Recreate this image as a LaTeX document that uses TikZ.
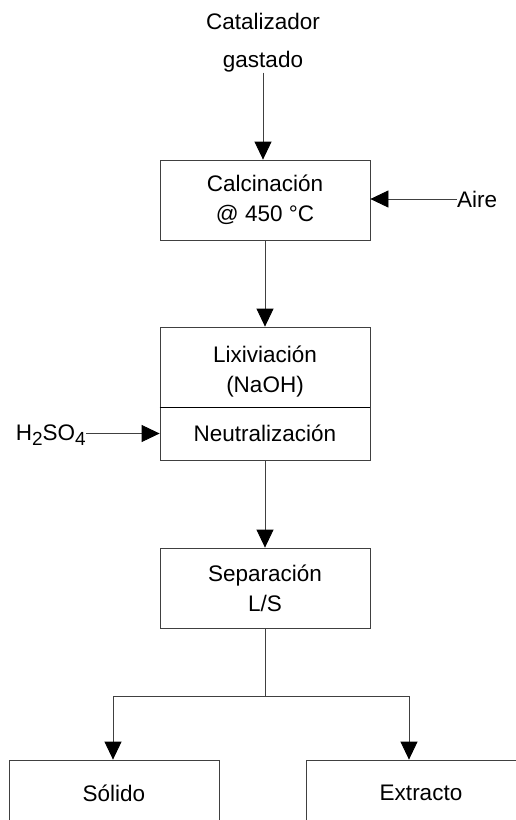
\documentclass[tikz,border=0pt]{standalone}
\usepackage{fontspec}
\setmainfont{Liberation Sans}
\usetikzlibrary{arrows.meta}
\newcommand{\lowsub}[1]{\raisebox{-5pt}{\fontsize{19}{19}\selectfont #1}}

\tikzset{
  unit/.style={draw=black!75, line width=0.8pt, minimum width=210, minimum height=80, inner sep=0pt, align=center},
  flow/.style={draw=black!75, line width=0.8pt, -{Triangle[length=18pt,width=17pt,black]}},
  link/.style={draw=black!75, line width=0.8pt},
}

\begin{document}
\begin{tikzpicture}[x=1pt,y=1pt,yscale=-1,xscale=1,font=\fontsize{22.5}{30}\selectfont]
\useasboundingbox (0,0) rectangle (515,820);

% Process boxes
\node[unit] (cal) at (265,200) {Calcinación\\@ 450 °C};
\node[unit] (lix) at (265,367) {};
\node[unit, minimum height=53] (neu) at (265,433.5) {Neutralización};
\node[unit] (sep) at (265,588) {Separación\\L/S};
\node[unit, minimum height=66] (sol) at (114,793) {Sólido};
\node[unit, minimum width=230, minimum height=66] (ext) at (421,793) {Extracto};
\draw [line width=1.6pt] (lix.south west) -- (lix.south east) ;

% Text Node
\node[align=center, inner sep=0pt] (lixtext) at (265,372) {Lixiviación\\(NaOH)};
% Text Node
\node[align=center, inner sep=0pt] (feed) at (263,43) {Catalizador\\[8pt]gastado};
% Text Node
\node[anchor=west, inner sep=0pt] (aire) at (457,199) {Aire};
% Text Node
\node[anchor=east, inner sep=0pt] (acid) at (86,435) {H\lowsub{2}SO\lowsub{4}};

% Streams
\draw [flow] (feed.south) -- (feed.south |- cal.north) ;
\draw [flow] (aire.west) -- (aire.west -| cal.east) ;
\draw [flow] (cal.south) -- (lix.north) ;
\draw [flow] (acid.east |- neu.west) -- (neu.west) ;
\draw [flow] (neu.south) -- (sep.north) ;

% Split to products
\coordinate (split) at (265,696);
\coordinate (splitL) at (113,696);
\coordinate (splitR) at (409,696);
\draw [link] (sep.south) -- (split) ;
\draw [link] (splitL) -- (splitR) ;
\draw [flow] (splitL) -- (splitL |- sol.north) ;
\draw [flow] (splitR) -- (splitR |- ext.north) ;

\end{tikzpicture}
\end{document}
